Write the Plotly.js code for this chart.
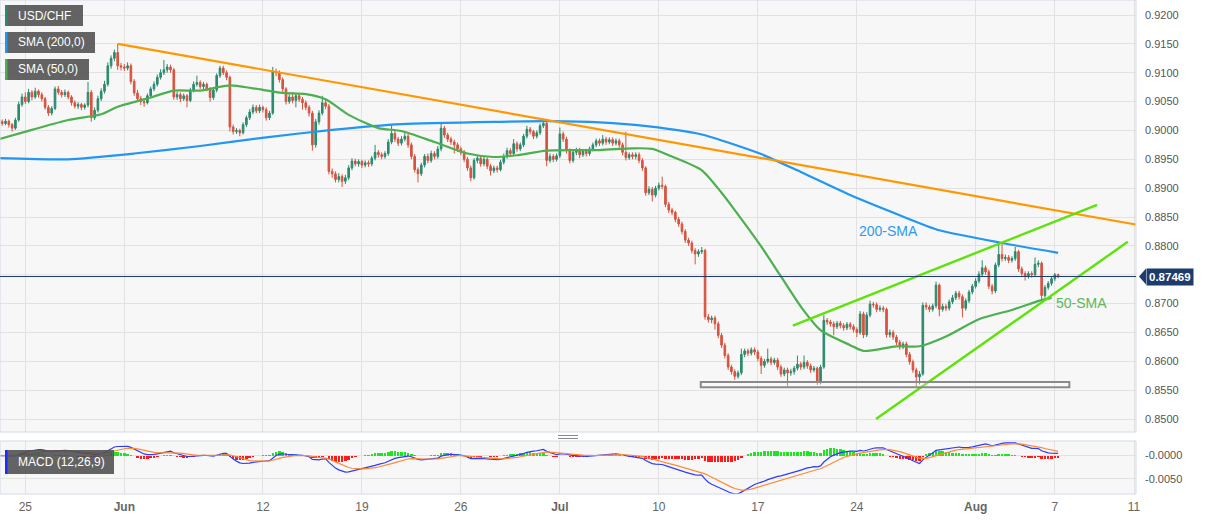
<!DOCTYPE html>
<html><head><meta charset="utf-8">
<script src="https://cdn.plot.ly/plotly-3.0.1.min.js"></script>
<style>html,body{margin:0;padding:0;background:#fff;}#chart{width:1207px;height:521px;}</style>
</head><body><div id="chart"></div>
<script>
// ---- data (4-hour candles, index 0 = first candle of 25 May) ----
const firstIndex = -8;
const opens = [0.9018,0.9015,0.9012,0.9016,0.9010,0.9004,0.9018,0.9045,
0.9058,0.9050,0.9066,0.9058,0.9068,0.9062,0.9055,0.9040,0.9030,0.9038,
0.9072,0.9066,0.9062,0.9066,0.9058,0.9048,0.9042,0.9045,0.9040,0.9044,
0.9066,0.9022,0.9035,0.9055,0.9068,0.9080,0.9112,0.9125,0.9135,0.9112,
0.9110,0.9108,0.9112,0.9085,0.9065,0.9055,0.9050,0.9048,0.9060,0.9072,
0.9080,0.9092,0.9100,0.9105,0.9110,0.9105,0.9058,0.9062,0.9055,0.9060,
0.9052,0.9070,0.9080,0.9083,0.9076,0.9080,0.9072,0.9057,0.9070,0.9095,
0.9108,0.9100,0.9092,0.9006,0.8998,0.9000,0.8996,0.9010,0.9022,0.9032,
0.9040,0.9034,0.9040,0.9036,0.9022,0.9030,0.9102,0.9100,0.9088,0.9072,
0.9050,0.9058,0.9052,0.9060,0.9054,0.9048,0.9040,0.9030,0.8975,0.9015,
0.9030,0.9048,0.9042,0.8929,0.8925,0.8915,0.8920,0.8912,0.8918,0.8935,
0.8947,0.8942,0.8946,0.8940,0.8944,0.8942,0.8952,0.8962,0.8958,0.8955,
0.8960,0.8980,0.8995,0.8985,0.8978,0.8985,0.8990,0.8975,0.8955,0.8932,
0.8925,0.8940,0.8955,0.8948,0.8960,0.8955,0.8968,0.9004,0.8992,0.8985,
0.8980,0.8975,0.8968,0.8962,0.8950,0.8935,0.8918,0.8948,0.8952,0.8942,
0.8950,0.8938,0.8930,0.8935,0.8932,0.8945,0.8955,0.8965,0.8960,0.8977,
0.8968,0.8975,0.8990,0.9002,0.8998,0.8990,0.8996,0.9008,0.9012,0.8948,
0.8955,0.8950,0.8956,0.8994,0.8985,0.8965,0.8948,0.8962,0.8966,0.8958,
0.8964,0.8960,0.8968,0.8975,0.8982,0.8978,0.8985,0.8980,0.8984,0.8978,
0.8982,0.8975,0.8962,0.8953,0.8958,0.8955,0.8958,0.8948,0.8935,0.8892,
0.8898,0.8888,0.8900,0.8905,0.8903,0.8872,0.8862,0.8858,0.8846,0.8838,
0.8825,0.8810,0.8805,0.8792,0.8786,0.8790,0.8792,0.8677,0.8672,0.8675,
0.8665,0.8645,0.8628,0.8610,0.8590,0.8582,0.8574,0.8580,0.8612,0.8618,
0.8614,0.8620,0.8616,0.8605,0.8593,0.8600,0.8604,0.8598,0.8602,0.8590,
0.8578,0.8585,0.8580,0.8582,0.8588,0.8595,0.8590,0.8598,0.8592,0.8585,
0.8588,0.8564,0.8590,0.8671,0.8668,0.8665,0.8660,0.8666,0.8662,0.8658,
0.8664,0.8660,0.8655,0.8650,0.8682,0.8646,0.8680,0.8699,0.8698,0.8690,
0.8692,0.8690,0.8646,0.8650,0.8642,0.8633,0.8625,0.8630,0.8612,0.8599,
0.8585,0.8573,0.8578,0.8697,0.8694,0.8690,0.8696,0.8732,0.8690,0.8695,
0.8692,0.8703,0.8710,0.8718,0.8712,0.8692,0.8705,0.8720,0.8730,0.8739,
0.8751,0.8762,0.8755,0.8730,0.8722,0.8767,0.8785,0.8778,0.8780,0.8775,
0.8778,0.8790,0.8760,0.8752,0.8748,0.8752,0.8750,0.8768,0.8770,0.8714,
0.8728,0.8735,0.8743,0.8750];
const highs = [0.9022,0.9019,0.9020,0.9019,0.9013,0.9022,0.9050,0.9064,
0.9066,0.9072,0.9070,0.9074,0.9071,0.9066,0.9058,0.9044,0.9042,0.9076,
0.9077,0.9070,0.9071,0.9069,0.9061,0.9052,0.9049,0.9048,0.9047,0.9084,
0.9070,0.9040,0.9060,0.9073,0.9086,0.9118,0.9130,0.9140,0.9150,0.9117,
0.9115,0.9118,0.9116,0.9089,0.9070,0.9060,0.9056,0.9064,0.9076,0.9085,
0.9097,0.9106,0.9122,0.9115,0.9114,0.9108,0.9067,0.9066,0.9064,0.9063,
0.9074,0.9085,0.9095,0.9087,0.9084,0.9083,0.9075,0.9074,0.9099,0.9112,
0.9112,0.9104,0.9095,0.9010,0.9004,0.9003,0.9014,0.9026,0.9037,0.9045,
0.9044,0.9045,0.9043,0.9040,0.9034,0.9110,0.9107,0.9104,0.9092,0.9075,
0.9063,0.9066,0.9064,0.9063,0.9058,0.9052,0.9044,0.9034,0.9020,0.9035,
0.9060,0.9053,0.9046,0.8934,0.8929,0.8926,0.8924,0.8923,0.8940,0.8952,
0.8951,0.8950,0.8949,0.8948,0.8948,0.8956,0.8975,0.8966,0.8962,0.8964,
0.8985,0.9010,0.8999,0.8989,0.8990,0.8996,0.8994,0.8979,0.8959,0.8936,
0.8944,0.8959,0.8960,0.8965,0.8964,0.8973,0.9013,0.9008,0.8996,0.8989,
0.8984,0.8979,0.8972,0.8966,0.8954,0.8939,0.8952,0.8957,0.8956,0.8954,
0.8953,0.8942,0.8939,0.8939,0.8949,0.8960,0.8970,0.8969,0.8985,0.8981,
0.8979,0.8994,0.9008,0.9006,0.9001,0.9000,0.9012,0.9016,0.9015,0.8960,
0.8959,0.8960,0.9005,0.8998,0.8989,0.8969,0.8966,0.8970,0.8970,0.8968,
0.8968,0.8972,0.8979,0.8986,0.8986,0.8992,0.8989,0.8988,0.8988,0.8986,
0.8986,0.8979,0.8998,0.8962,0.8962,0.8962,0.8962,0.8952,0.8938,0.8903,
0.8902,0.8904,0.8910,0.8920,0.8906,0.8876,0.8866,0.8861,0.8850,0.8842,
0.8829,0.8814,0.8809,0.8796,0.8794,0.8798,0.8795,0.8682,0.8679,0.8679,
0.8669,0.8649,0.8632,0.8614,0.8594,0.8586,0.8584,0.8622,0.8622,0.8622,
0.8624,0.8624,0.8620,0.8609,0.8604,0.8622,0.8608,0.8606,0.8606,0.8594,
0.8589,0.8589,0.8587,0.8592,0.8610,0.8599,0.8610,0.8602,0.8596,0.8592,
0.8591,0.8594,0.8680,0.8675,0.8672,0.8669,0.8670,0.8670,0.8666,0.8668,
0.8668,0.8664,0.8659,0.8687,0.8686,0.8685,0.8705,0.8703,0.8702,0.8697,
0.8696,0.8693,0.8655,0.8654,0.8646,0.8637,0.8634,0.8634,0.8616,0.8603,
0.8589,0.8583,0.8702,0.8702,0.8698,0.8700,0.8738,0.8735,0.8700,0.8699,
0.8707,0.8715,0.8722,0.8722,0.8716,0.8709,0.8724,0.8734,0.8744,0.8756,
0.8775,0.8766,0.8759,0.8734,0.8771,0.8803,0.8806,0.8785,0.8784,0.8782,
0.8798,0.8793,0.8764,0.8756,0.8756,0.8756,0.8780,0.8775,0.8773,0.8732,
0.8739,0.8747,0.8753,0.8752];
const lows = [0.9011,0.9008,0.9009,0.9005,0.8998,0.9001,0.9015,0.9041,
0.9046,0.9047,0.9052,0.9055,0.9057,0.9050,0.9036,0.9025,0.9026,0.9035,
0.9062,0.9057,0.9058,0.9054,0.9043,0.9038,0.9037,0.9035,0.9036,0.9040,
0.9015,0.9018,0.9031,0.9051,0.9064,0.9076,0.9107,0.9120,0.9105,0.9104,
0.9103,0.9104,0.9080,0.9060,0.9050,0.9044,0.9041,0.9045,0.9056,0.9068,
0.9076,0.9088,0.9096,0.9100,0.9100,0.9053,0.9053,0.9049,0.9051,0.9040,
0.9049,0.9066,0.9076,0.9072,0.9071,0.9068,0.9050,0.9053,0.9066,0.9091,
0.9096,0.9087,0.8998,0.8993,0.8994,0.8990,0.8993,0.9006,0.9018,0.9028,
0.9030,0.9030,0.9031,0.9017,0.9018,0.9027,0.9094,0.9083,0.9067,0.9045,
0.9046,0.9047,0.9040,0.9049,0.9036,0.9035,0.9024,0.8965,0.8970,0.9010,
0.9026,0.9037,0.8924,0.8918,0.8910,0.8910,0.8902,0.8907,0.8914,0.8931,
0.8938,0.8937,0.8935,0.8936,0.8937,0.8938,0.8948,0.8953,0.8950,0.8951,
0.8956,0.8976,0.8980,0.8973,0.8974,0.8981,0.8970,0.8950,0.8927,0.8910,
0.8921,0.8936,0.8943,0.8944,0.8950,0.8951,0.8964,0.8987,0.8980,0.8975,
0.8960,0.8963,0.8957,0.8945,0.8930,0.8912,0.8915,0.8943,0.8937,0.8938,
0.8933,0.8922,0.8926,0.8927,0.8929,0.8941,0.8951,0.8955,0.8956,0.8963,
0.8964,0.8971,0.8986,0.8993,0.8985,0.8986,0.8992,0.9004,0.8938,0.8944,
0.8945,0.8946,0.8952,0.8980,0.8960,0.8943,0.8944,0.8957,0.8952,0.8954,
0.8955,0.8956,0.8964,0.8971,0.8973,0.8974,0.8975,0.8976,0.8973,0.8974,
0.8970,0.8957,0.8948,0.8949,0.8950,0.8950,0.8943,0.8930,0.8887,0.8888,
0.8877,0.8884,0.8896,0.8898,0.8867,0.8857,0.8853,0.8841,0.8833,0.8820,
0.8805,0.8800,0.8787,0.8768,0.8781,0.8786,0.8672,0.8667,0.8666,0.8655,
0.8640,0.8623,0.8605,0.8585,0.8577,0.8568,0.8570,0.8576,0.8607,0.8609,
0.8610,0.8611,0.8600,0.8578,0.8589,0.8596,0.8593,0.8594,0.8585,0.8573,
0.8574,0.8557,0.8575,0.8577,0.8584,0.8585,0.8586,0.8587,0.8580,0.8581,
0.8559,0.8560,0.8587,0.8663,0.8660,0.8645,0.8656,0.8657,0.8653,0.8654,
0.8655,0.8650,0.8642,0.8646,0.8640,0.8642,0.8676,0.8693,0.8685,0.8686,
0.8685,0.8641,0.8641,0.8637,0.8628,0.8620,0.8621,0.8607,0.8594,0.8580,
0.8556,0.8560,0.8575,0.8689,0.8685,0.8686,0.8692,0.8678,0.8686,0.8687,
0.8688,0.8699,0.8706,0.8707,0.8676,0.8688,0.8701,0.8716,0.8726,0.8735,
0.8747,0.8750,0.8725,0.8716,0.8718,0.8763,0.8773,0.8774,0.8770,0.8771,
0.8774,0.8755,0.8747,0.8740,0.8743,0.8745,0.8746,0.8763,0.8705,0.8710,
0.8724,0.8731,0.8739,0.8744];
const closes = [0.9015,0.9012,0.9016,0.9010,0.9004,0.9018,0.9045,0.9058,
0.9050,0.9066,0.9058,0.9068,0.9062,0.9055,0.9040,0.9030,0.9038,0.9072,
0.9066,0.9062,0.9066,0.9058,0.9048,0.9042,0.9045,0.9040,0.9044,0.9066,
0.9022,0.9035,0.9055,0.9068,0.9080,0.9112,0.9125,0.9135,0.9112,0.9110,
0.9108,0.9112,0.9085,0.9065,0.9055,0.9050,0.9048,0.9060,0.9072,0.9080,
0.9092,0.9100,0.9105,0.9110,0.9105,0.9058,0.9062,0.9055,0.9060,0.9052,
0.9070,0.9080,0.9083,0.9076,0.9080,0.9072,0.9057,0.9070,0.9095,0.9108,
0.9100,0.9092,0.9006,0.8998,0.9000,0.8996,0.9010,0.9022,0.9032,0.9040,
0.9034,0.9040,0.9036,0.9022,0.9030,0.9102,0.9100,0.9088,0.9072,0.9050,
0.9058,0.9052,0.9060,0.9054,0.9048,0.9040,0.9030,0.8975,0.9015,0.9030,
0.9048,0.9042,0.8929,0.8925,0.8915,0.8920,0.8912,0.8918,0.8935,0.8947,
0.8942,0.8946,0.8940,0.8944,0.8942,0.8952,0.8962,0.8958,0.8955,0.8960,
0.8980,0.8995,0.8985,0.8978,0.8985,0.8990,0.8975,0.8955,0.8932,0.8925,
0.8940,0.8955,0.8948,0.8960,0.8955,0.8968,0.9004,0.8992,0.8985,0.8980,
0.8975,0.8968,0.8962,0.8950,0.8935,0.8918,0.8948,0.8952,0.8942,0.8950,
0.8938,0.8930,0.8935,0.8932,0.8945,0.8955,0.8965,0.8960,0.8977,0.8968,
0.8975,0.8990,0.9002,0.8998,0.8990,0.8996,0.9008,0.9012,0.8948,0.8955,
0.8950,0.8956,0.8994,0.8985,0.8965,0.8948,0.8962,0.8966,0.8958,0.8964,
0.8960,0.8968,0.8975,0.8982,0.8978,0.8985,0.8980,0.8984,0.8978,0.8982,
0.8975,0.8962,0.8953,0.8958,0.8955,0.8958,0.8948,0.8935,0.8892,0.8898,
0.8888,0.8900,0.8905,0.8903,0.8872,0.8862,0.8858,0.8846,0.8838,0.8825,
0.8810,0.8805,0.8792,0.8786,0.8790,0.8792,0.8677,0.8672,0.8675,0.8665,
0.8645,0.8628,0.8610,0.8590,0.8582,0.8574,0.8580,0.8612,0.8618,0.8614,
0.8620,0.8616,0.8605,0.8593,0.8600,0.8604,0.8598,0.8602,0.8590,0.8578,
0.8585,0.8580,0.8582,0.8588,0.8595,0.8590,0.8598,0.8592,0.8585,0.8588,
0.8564,0.8590,0.8671,0.8668,0.8665,0.8660,0.8666,0.8662,0.8658,0.8664,
0.8660,0.8655,0.8650,0.8682,0.8646,0.8680,0.8699,0.8698,0.8690,0.8692,
0.8690,0.8646,0.8650,0.8642,0.8633,0.8625,0.8630,0.8612,0.8599,0.8585,
0.8573,0.8578,0.8697,0.8694,0.8690,0.8696,0.8732,0.8690,0.8695,0.8692,
0.8703,0.8710,0.8718,0.8712,0.8692,0.8705,0.8720,0.8730,0.8739,0.8751,
0.8762,0.8755,0.8730,0.8722,0.8767,0.8785,0.8778,0.8780,0.8775,0.8778,
0.8790,0.8760,0.8752,0.8748,0.8752,0.8750,0.8768,0.8770,0.8714,0.8728,
0.8735,0.8743,0.8750,0.87469];

// x-axis date ticks (trading-day number, 6 candles per day)
const candlesPerDay = 6;
const tickDays = [0, 5, 12, 17, 22, 27, 32, 37, 42, 48, 52, 56];
const tickLabels = ['25', '<b>Jun</b>', '12', '19', '26', '<b>Jul</b>', '10', '17', '24', '<b>Aug</b>', '7', '11'];
// price-axis labels shown (0.8750 is covered by the last-price tag)
const priceTicks = [0.8500, 0.8550, 0.8600, 0.8650, 0.8700, 0.8800, 0.8850, 0.8900, 0.8950, 0.9000, 0.9050, 0.9100, 0.9150, 0.9200];
const priceGrid = [0.8750];

// moving averages (candle index, value)
const sma200X = [-8, 13, 33, 53, 73, 93, 114, 144, 159, 174, 189, 205, 223, 235, 250, 265, 277, 296, 313];
const sma200Y = [0.8952, 0.8950, 0.8960, 0.8973, 0.8988, 0.9001, 0.9011, 0.9015, 0.9016, 0.9014, 0.9007, 0.8993, 0.8959, 0.8928, 0.8888, 0.8853, 0.8827, 0.8805, 0.8788];
const sma50X = [-8, 2, 13, 23, 28, 38, 45, 53, 62, 69, 78, 85, 91, 98, 107, 114, 124, 134, 142, 149, 158, 174, 184, 190, 195, 205, 211, 215, 223, 229, 235, 241, 250, 254, 264, 271, 279, 289, 299, 308, 311];
const sma50Y = [0.8985, 0.9001, 0.9018, 0.9028, 0.9041, 0.9057, 0.9069, 0.9069, 0.9078, 0.9073, 0.9065, 0.9063, 0.9054, 0.9027, 0.9004, 0.8999, 0.8980, 0.8960, 0.8954, 0.8957, 0.8965, 0.8966, 0.8969, 0.8968, 0.8957, 0.8931, 0.8892, 0.8862, 0.8799, 0.8747, 0.8695, 0.8654, 0.8628, 0.8618, 0.8626, 0.8626, 0.8643, 0.8673, 0.8689, 0.8706, 0.8710];

// drawn trend lines / zones
const resistX = [28.1, 336.5], resistY = [0.9150, 0.8837];
const channelTopX = [232.6, 324.8], channelTopY = [0.8662, 0.8871];
const channelBotX = [257.8, 334.1], channelBotY = [0.8500, 0.8807];
const supportX = [204.7, 316.4], supportY = [0.8555, 0.8564];
const lastPrice = 0.87469;

// ---- derived ----
const xs = closes.map((_, i) => firstIndex + i);
function ema(arr, n) { const k = 2 / (n + 1); let p = arr[0]; return arr.map(v => (p = v * k + p * (1 - k))); }
const e12 = ema(closes, 12), e26 = ema(closes, 26);
const macd = e12.map((v, i) => v - e26[i]);
const signal = ema(macd, 9);
const hist = macd.map((v, i) => v - signal[i]);

const FONT = 'Liberation Sans, Arial, sans-serif';
const W = 1136, H = 494; // plot area in px
const px = x => x / W, py = y => (H - y) / H;

const traces = [
  { type: 'candlestick', x: xs, open: opens, high: highs, low: lows, close: closes,
    increasing: { line: { color: '#2b8a6e', width: 1 }, fillcolor: '#2b8a6e' },
    decreasing: { line: { color: '#d8523e', width: 1 }, fillcolor: '#d8523e' },
    whiskerwidth: 0, hoverinfo: 'skip', xaxis: 'x', yaxis: 'y' },
  { type: 'scatter', mode: 'lines', x: sma200X, y: sma200Y, line: { color: '#2196f3', width: 2.2, shape: 'spline', smoothing: 0.6 }, hoverinfo: 'skip', yaxis: 'y' },
  { type: 'scatter', mode: 'lines', x: sma50X, y: sma50Y, line: { color: '#4caf50', width: 2.2, shape: 'spline', smoothing: 0.7 }, hoverinfo: 'skip', yaxis: 'y' },
  { type: 'scatter', mode: 'lines', x: resistX, y: resistY, line: { color: '#ff9800', width: 2.2 }, hoverinfo: 'skip', yaxis: 'y' },
  { type: 'scatter', mode: 'lines', x: channelTopX, y: channelTopY, line: { color: '#5ee30a', width: 2.4 }, hoverinfo: 'skip', yaxis: 'y' },
  { type: 'scatter', mode: 'lines', x: channelBotX, y: channelBotY, line: { color: '#5ee30a', width: 2.4 }, hoverinfo: 'skip', yaxis: 'y' },
  { type: 'bar', x: xs, y: hist, marker: { color: hist.map(v => v >= 0 ? '#1ee61e' : '#ff1a1a') }, width: 0.75, hoverinfo: 'skip', xaxis: 'x', yaxis: 'y2' },
  { type: 'scatter', mode: 'lines', x: xs, y: macd, line: { color: '#2a3cff', width: 1.2 }, hoverinfo: 'skip', yaxis: 'y2' },
  { type: 'scatter', mode: 'lines', x: xs, y: signal, line: { color: '#ff8a33', width: 1.2 }, hoverinfo: 'skip', yaxis: 'y2' }
];

const legendItems = [
  { text: 'USD/CHF', color: '#2b8a6e', x0: 5, x1: 83, y0: 5, y1: 26 },
  { text: 'SMA (200,0)', color: '#2196f3', x0: 5, x1: 95, y0: 32, y1: 53 },
  { text: 'SMA (50,0)', color: '#4caf50', x0: 5, x1: 89, y0: 59, y1: 80 },
  { text: 'MACD (12,26,9)', color: '#1a2cff', x0: 5, x1: 114, y0: 450, y1: 474 }
];

const shapes = [
  { type: 'rect', xref: 'x domain', yref: 'y domain', x0: 0, x1: 1, y0: 0, y1: 1, line: { color: '#d4dae6', width: 1 }, layer: 'above' },
  { type: 'rect', xref: 'x domain', yref: 'y2 domain', x0: 0, x1: 1, y0: 0, y1: 1, line: { color: '#d4dae6', width: 1 }, layer: 'above' },
  { type: 'rect', xref: 'x', yref: 'y', x0: supportX[0], x1: supportX[1], y0: supportY[0], y1: supportY[1], line: { color: '#8a8a8a', width: 2 }, fillcolor: 'rgba(255,255,255,0.25)', layer: 'above' },
  { type: 'line', xref: 'paper', yref: 'y', x0: 0, x1: 1, y0: lastPrice, y1: lastPrice, line: { color: '#1d3b6b', width: 1 }, layer: 'above' },
  { type: 'path', xref: 'paper', yref: 'y', path: `M ${px(1139)} ${lastPrice} L ${px(1146)} ${lastPrice + 0.00137} L ${px(1146)} ${lastPrice - 0.00137} Z`, fillcolor: '#1d3b6b', line: { width: 0 } },
  { type: 'line', xref: 'paper', yref: 'paper', x0: px(558), x1: px(578), y0: py(435.5), y1: py(435.5), line: { color: '#8a8a8a', width: 1 } },
  { type: 'line', xref: 'paper', yref: 'paper', x0: px(558), x1: px(578), y0: py(438.5), y1: py(438.5), line: { color: '#8a8a8a', width: 1 } }
];
priceGrid.forEach(v => shapes.push({ type: 'line', xref: 'x domain', yref: 'y', x0: 0, x1: 1, y0: v, y1: v, line: { color: '#e2e2e2', width: 1 }, layer: 'below' }));
legendItems.forEach(it => {
  shapes.push({ type: 'rect', xref: 'paper', yref: 'paper', x0: px(it.x0), x1: px(it.x1), y0: py(it.y1), y1: py(it.y0), fillcolor: 'rgba(78,78,78,0.88)', line: { width: 0 }, layer: 'above' });
  shapes.push({ type: 'rect', xref: 'paper', yref: 'paper', x0: px(it.x0), x1: px(it.x0 + 2.5), y0: py(it.y1), y1: py(it.y0), fillcolor: it.color, line: { width: 0 }, layer: 'above' });
});

const annotations = legendItems.map(it => ({
  xref: 'paper', yref: 'paper', x: px(it.x0 + 11), y: py((it.y0 + it.y1) / 2), xanchor: 'left', yanchor: 'middle',
  text: it.text, showarrow: false, font: { family: FONT, size: 12, color: '#ffffff' }
}));
annotations.push(
  { xref: 'paper', yref: 'y', x: px(1146), y: lastPrice, xanchor: 'left', yanchor: 'middle', text: '<b>' + lastPrice.toFixed(5) + '</b>', showarrow: false, bgcolor: '#1d3b6b', borderpad: 2, font: { family: FONT, size: 11.5, color: '#ffffff' } },
  { xref: 'x', yref: 'y', x: 261.7, y: 0.88257, text: '200-SMA', showarrow: false, font: { family: FONT, size: 14, color: '#2e9af0' } },
  { xref: 'x', yref: 'y', x: 320.2, y: 0.8701, text: '50-SMA', showarrow: false, font: { family: FONT, size: 14, color: '#5cb85c' } }
);

const layout = {
  width: 1207, height: 521,
  margin: { l: 0, r: 71, t: 0, b: 27 },
  paper_bgcolor: '#ffffff', plot_bgcolor: '#f7f7f7',
  showlegend: false, bargap: 0, hovermode: false,
  font: { family: FONT, size: 11, color: '#555' },
  xaxis: { domain: [0, 1], anchor: 'y2', range: [-7.67, 336.6], tickmode: 'array',
    tickvals: tickDays.map(d => d * candlesPerDay), ticktext: tickLabels,
    showgrid: true, gridcolor: '#e2e2e2', gridwidth: 1, zeroline: false, showline: false, ticks: '',
    tickfont: { family: FONT, size: 12, color: '#666' }, ticklabelstandoff: 4,
    rangeslider: { visible: false } },
  yaxis: { domain: [0.1255, 1], side: 'right', anchor: 'x', range: [0.84775, 0.9226], tickmode: 'array',
    tickvals: priceTicks, ticktext: priceTicks.map(v => v.toFixed(4)),
    showgrid: true, gridcolor: '#e2e2e2', zeroline: false, ticks: '', ticklabelstandoff: 8,
    tickfont: { family: FONT, size: 11, color: '#555' } },
  yaxis2: { domain: [0, 0.1073], side: 'right', anchor: 'x', range: [-0.0082, 0.0031], tickmode: 'array',
    tickvals: [0, -0.005], ticktext: ['-0.0000', '-0.0050'], showgrid: true, gridcolor: '#e2e2e2', zeroline: false,
    ticks: '', ticklabelstandoff: 8, tickfont: { family: FONT, size: 11, color: '#555' } },
  shapes: shapes,
  annotations: annotations
};

Plotly.newPlot('chart', traces, layout, { displayModeBar: false, staticPlot: true });
</script>
</body></html>
